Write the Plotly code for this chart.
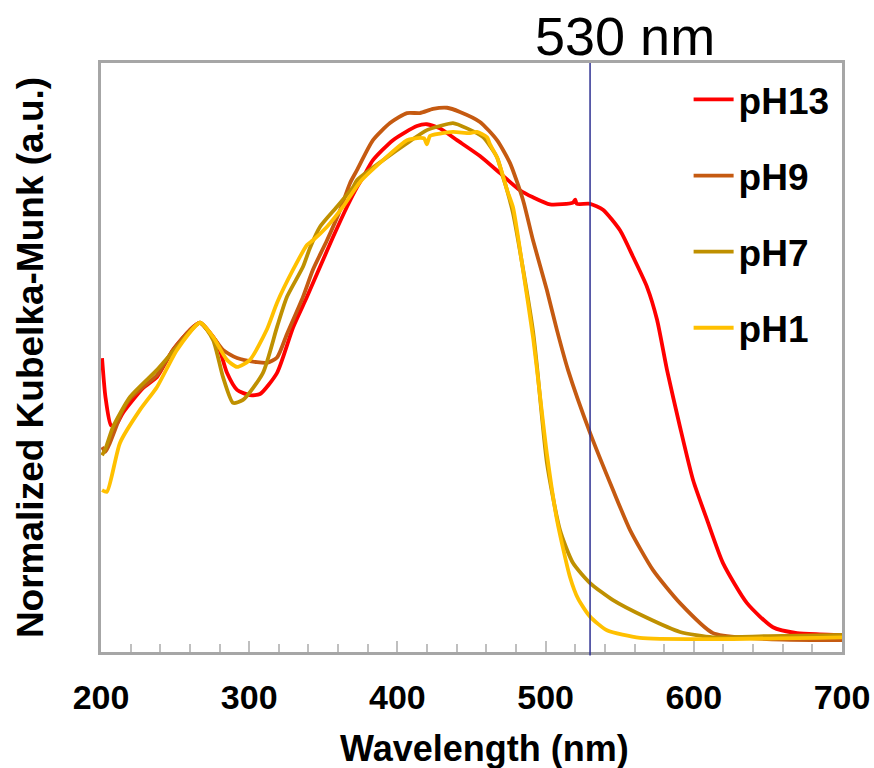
import plotly.graph_objects as go

# Wavelength (nm) and normalized Kubelka-Munk values
ph13_x = [200.7, 203, 206.7, 210, 214.8, 228.3, 237.8, 248.6, 260.1, 266.8, 278.3, 285, 291.8, 300.5,
          307.3, 318.8, 329.6, 339, 347.8, 356.5, 366, 372.7, 376.8, 383.5, 397, 413.2, 419.9, 428.7,
          440.2, 455.7, 469.2, 482.7, 491.5, 503, 518.5, 520, 521, 530, 538.7, 550.2, 559, 568.4, 575.2,
          581.9, 590.7, 599.5, 609, 619.7, 635.9, 653.4, 669.6, 685, 700]
ph13_y = [0.499, 0.433, 0.385, 0.385, 0.406, 0.448, 0.467, 0.513, 0.547, 0.559, 0.525, 0.474, 0.445, 0.436,
          0.438, 0.474, 0.551, 0.603, 0.654, 0.704, 0.756, 0.789, 0.806, 0.835, 0.869, 0.893, 0.896, 0.889,
          0.869, 0.842, 0.813, 0.784, 0.772, 0.760, 0.763, 0.768, 0.761, 0.761, 0.751, 0.716, 0.671, 0.620, 0.564,
          0.479, 0.382, 0.292, 0.224, 0.151, 0.083, 0.042, 0.032, 0.030, 0.029]

ph9_x = [200.7, 203, 206, 214.8, 219.6, 228.3, 237.8, 248.6, 260.1, 266.8, 275.6, 282.3, 291.8, 305.3,
         312, 318.8, 325.5, 336.3, 343, 352.5, 361.3, 368, 372.7, 383.5, 395, 406.5, 415.2, 424, 433.5,
         442.2, 455.7, 467.2, 476, 484.8, 491.5, 500.9, 507.7, 515.1, 530, 545.5, 557, 572.5, 590.7, 613,
         635.9, 660, 700]
ph9_y = [0.348, 0.340, 0.355, 0.411, 0.430, 0.450, 0.470, 0.513, 0.547, 0.559, 0.535, 0.513, 0.499, 0.492,
         0.491, 0.500, 0.540, 0.603, 0.649, 0.699, 0.750, 0.796, 0.818, 0.869, 0.898, 0.915, 0.915, 0.922, 0.924,
         0.917, 0.900, 0.869, 0.830, 0.767, 0.699, 0.614, 0.546, 0.479, 0.372, 0.275, 0.207, 0.139, 0.083, 0.032,
         0.024, 0.021, 0.020]

ph7_x = [200.7, 203, 208.1, 219.6, 237.8, 251.3, 266.8, 275.6, 282.3, 289.1, 295.8, 309.3, 318.8, 325.5,
         336.3, 341, 347.8, 359.2, 370, 372.7, 390.3, 406.5, 419.9, 428.7, 437.5, 447, 457.8, 467.2, 471.3,
         474, 478, 484.8, 491.5, 494.2, 500.9, 509.7, 518.5, 530, 545.5, 568.4, 590.7, 613, 650, 700]
ph7_y = [0.334, 0.345, 0.382, 0.433, 0.479, 0.518, 0.559, 0.530, 0.467, 0.423, 0.428, 0.474, 0.552, 0.603,
         0.654, 0.686, 0.722, 0.756, 0.789, 0.801, 0.835, 0.864, 0.886, 0.893, 0.898, 0.889, 0.874, 0.840, 0.806,
         0.784, 0.745, 0.650, 0.545, 0.485, 0.321, 0.207, 0.151, 0.117, 0.088, 0.058, 0.034, 0.025, 0.027, 0.029]

ph1_x = [200.7, 204, 212.8, 226.3, 237.8, 251.3, 266.8, 275.6, 285, 291.8, 300.5, 312, 318.8, 329.6,
         339, 343, 352.5, 363.3, 374.8, 390.3, 406.5, 415.2, 418, 419.9, 422, 428.7, 437.5, 449, 453.7,
         460.5, 462.5, 467.2, 471.3, 474, 478, 484.8, 491.5, 494.2, 500.9, 507.7, 516.5, 522, 530, 541.4,
         563.7, 613, 700]
ph1_y = [0.275, 0.272, 0.355, 0.411, 0.450, 0.513, 0.559, 0.535, 0.496, 0.484, 0.496, 0.548, 0.593, 0.649,
         0.691, 0.699, 0.722, 0.756, 0.798, 0.835, 0.869, 0.873, 0.872, 0.862, 0.876, 0.880, 0.883, 0.881, 0.883,
         0.874, 0.862, 0.840, 0.808, 0.784, 0.755, 0.648, 0.535, 0.479, 0.336, 0.224, 0.127, 0.090, 0.060, 0.037,
         0.024, 0.022, 0.025]

series_names = ["pH13", "pH9", "pH7", "pH1"]
series_colors = ["#FF0000", "#C55A11", "#BF9000", "#FFC000"]
series_x = [ph13_x, ph9_x, ph7_x, ph1_x]
series_y = [ph13_y, ph9_y, ph7_y, ph1_y]

marker_wavelength = 530
marker_label = "530 nm"
x_title = "Wavelength (nm)"
y_title = "Normalized Kubelka-Munk (a.u.)"
x_ticks = [200, 300, 400, 500, 600, 700]

FONT = "Liberation Sans, Arial, sans-serif"

fig = go.Figure()
for nm, xs, ys, col in zip(series_names, series_x, series_y, series_colors):
    fig.add_trace(go.Scatter(x=xs, y=ys, mode="lines", name=nm, legendgroup=nm,
                             line=dict(color=col, width=3.8, shape="spline", smoothing=0.6)))

fig.add_shape(type="line", x0=marker_wavelength, x1=marker_wavelength, xref="x",
              y0=-0.006, y1=1, yref="paper", line=dict(color="#2E3192", width=1.5))

fig.add_annotation(text=marker_label, xref="paper", yref="paper", x=0.707, y=1.046,
                   xanchor="center", yanchor="middle", showarrow=False,
                   font=dict(family=FONT, size=54, color="black"))

fig.add_annotation(text=x_title, xref="paper", yref="paper", x=0.517, y=-0.163,
                   xanchor="center", yanchor="middle", showarrow=False,
                   font=dict(family=FONT, size=36, weight="bold", color="black"))

fig.update_layout(
    width=874, height=768,
    margin=dict(l=101, r=32, t=63, b=116),
    plot_bgcolor="white", paper_bgcolor="white",
    font=dict(family=FONT, color="black"),
    legend=dict(x=0.793, y=0.990, xanchor="left", yanchor="top",
                font=dict(family=FONT, size=37, weight="bold", color="black"),
                tracegroupgap=25, bgcolor="rgba(0,0,0,0)", itemwidth=40),
    showlegend=True,
)

fig.update_xaxes(range=[200, 700], tickvals=x_ticks, ticks="inside", ticklen=11, tickwidth=2,
                 tickcolor="#BFBFBF", showline=True, linecolor="#A6A6A6", linewidth=2.5, mirror=True,
                 showgrid=False, zeroline=False, automargin=False,
                 tickfont=dict(family=FONT, size=34, weight="bold", color="black"),
                 ticklabelstandoff=13,
                 minor=dict(dtick=20, ticks="inside", ticklen=8, tickwidth=2, tickcolor="#BFBFBF", showgrid=False))

fig.update_yaxes(range=[0, 1], showticklabels=False, ticks="", showline=True, linecolor="#A6A6A6",
                 linewidth=2.5, mirror=True, showgrid=False, zeroline=False, automargin=False,
                 title=dict(text=y_title, standoff=44,
                            font=dict(family=FONT, size=37, weight="bold", color="black")))

fig.write_html("out.html", config={"displayModeBar": False})

# remove the browser's default page margin so the figure sits at the window's top-left corner
with open("out.html", "r", encoding="utf-8") as f:
    html = f.read()
html = html.replace("<body>", '<body style="margin:0;padding:0;overflow:hidden">', 1)
with open("out.html", "w", encoding="utf-8") as f:
    f.write(html)
